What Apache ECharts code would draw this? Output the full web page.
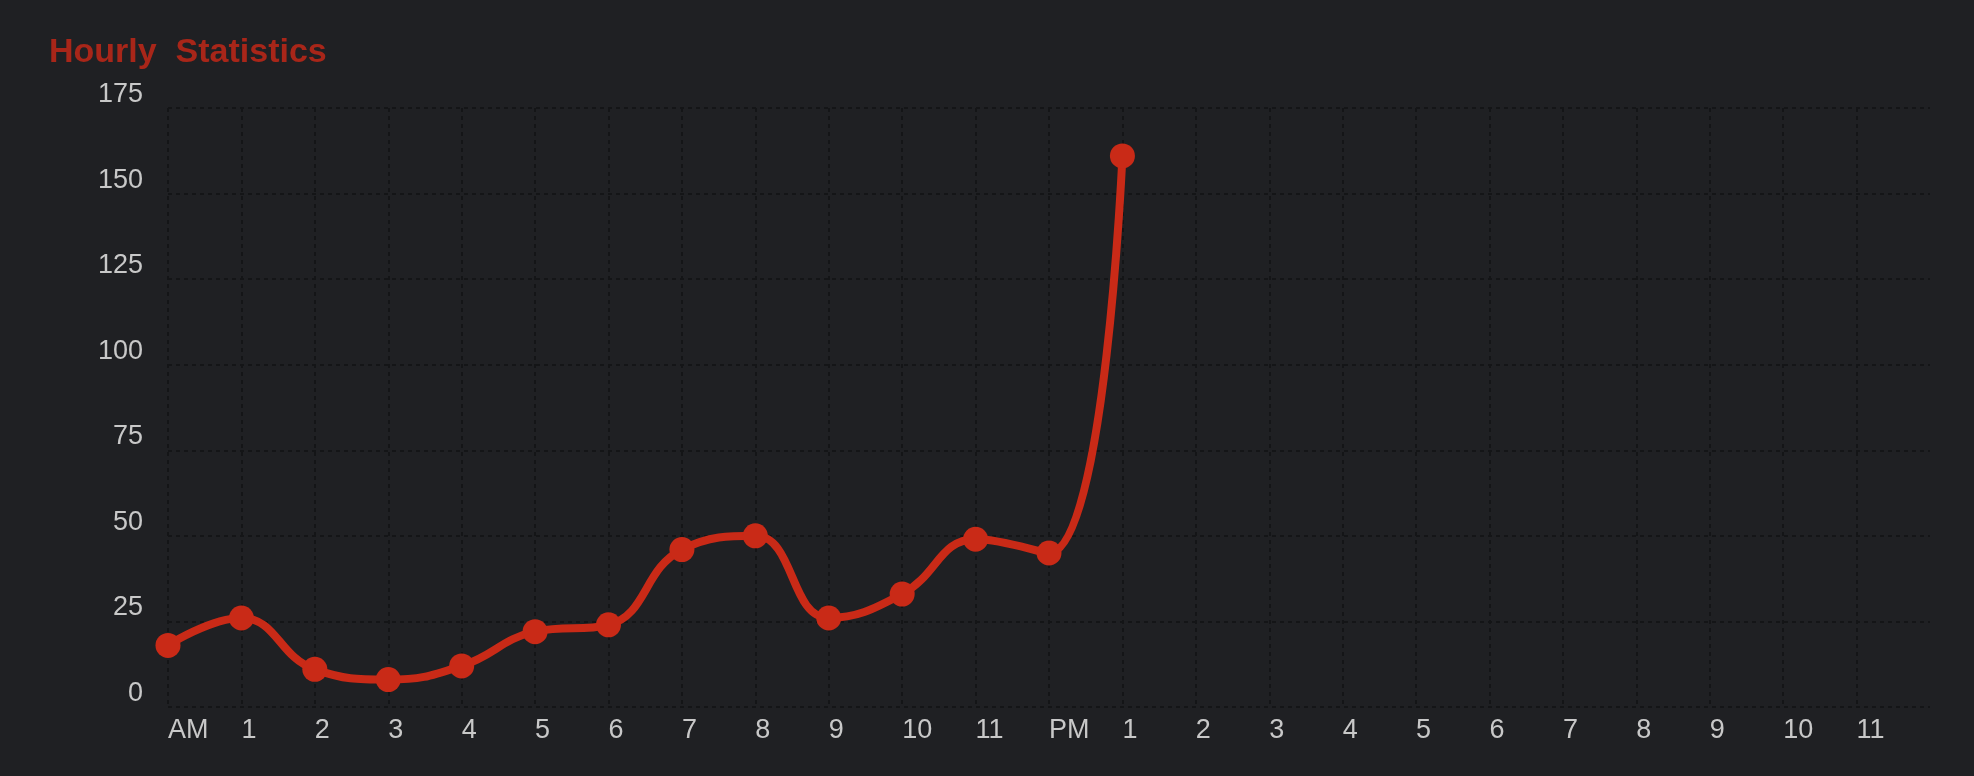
<!DOCTYPE html>
<html>
<head>
<meta charset="utf-8">
<script src="https://cdn.jsdelivr.net/npm/echarts@6/dist/echarts.min.js"></script>
<style>
html,body{margin:0;padding:0;background:#1f2023;}
#chart{width:1974px;height:776px;}
</style>
</head>
<body>
<div id="chart"></div>
<script>
const hourLabels = ['AM','1','2','3','4','5','6','7','8','9','10','11',
                    'PM','1','2','3','4','5','6','7','8','9','10','11'];
const hourlyValues = [18, 26, 11, 8, 12, 22, 24, 46, 50, 26, 33, 49, 45, 161];
const yMin = 0, yMax = 175, yStep = 25;

const chart = echarts.init(document.getElementById('chart'), null, {renderer: 'canvas'});
const gridLine = {color: '#141517', width: 2, type: [4, 4]};
const labelFont = "'Liberation Sans', Arial, sans-serif";

chart.setOption({
  backgroundColor: '#1f2023',
  animation: false,
  title: {
    text: 'Hourly  Statistics',
    left: 44,
    top: 31,
    textStyle: {color: '#a82619', fontSize: 34, fontWeight: 'bold', fontFamily: labelFont}
  },
  grid: {left: 168, right: 44, top: 108, bottom: 69},
  xAxis: {
    type: 'value',
    min: 0,
    max: hourLabels.length,
    interval: 1,
    axisLine: {show: false},
    axisTick: {show: false},
    splitLine: {show: true, showMaxLine: false, showMinLine: true, lineStyle: gridLine},
    axisLabel: {
      color: '#c8c8c8',
      fontSize: 27,
      fontFamily: labelFont,
      align: 'left',
      margin: 10,
      showMaxLabel: true,
      formatter: v => (hourLabels[v] !== undefined ? hourLabels[v] : '')
    }
  },
  yAxis: {
    type: 'value',
    min: yMin,
    max: yMax,
    interval: yStep,
    axisLine: {show: false},
    axisTick: {show: false},
    splitLine: {show: true, showMinLine: true, showMaxLine: true, lineStyle: gridLine},
    axisLabel: {
      color: '#c8c8c8',
      fontSize: 27,
      fontFamily: labelFont,
      margin: 25,
      verticalAlign: 'bottom'
    }
  },
  series: [{
    type: 'line',
    data: hourlyValues.map((v, i) => [i, v]),
    smooth: 0.45,
    symbol: 'circle',
    symbolSize: 25,
    lineStyle: {color: '#c92a17', width: 8},
    itemStyle: {color: '#c92a17'}
  }]
});
</script>
</body>
</html>
